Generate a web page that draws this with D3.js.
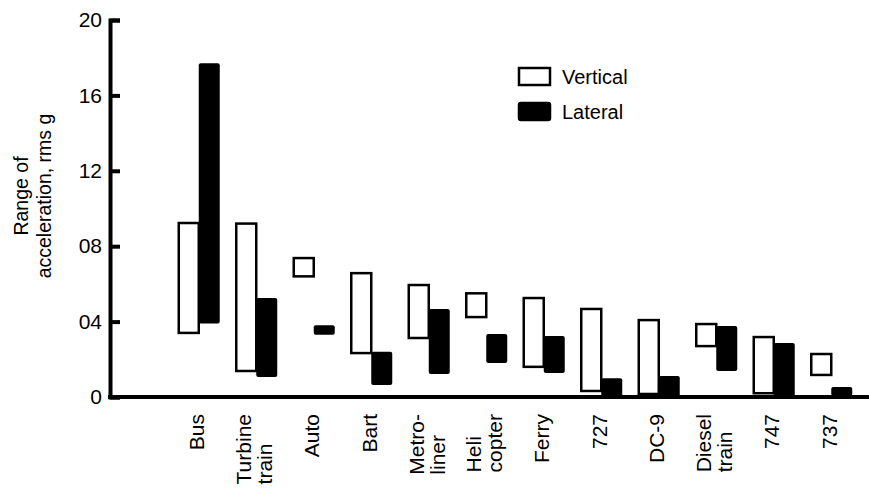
<!DOCTYPE html>
<html>
<head>
<meta charset="utf-8">
<script src="https://cdn.jsdelivr.net/npm/d3@7"></script>
<style>
  body { margin: 0; background: #fff; }
  svg text { font-family: "Liberation Sans", Arial, sans-serif; fill: #000; }
</style>
</head>
<body>
<svg width="869" height="488"></svg>
<script>
var svg = d3.select("svg"),
    width = +svg.attr("width"),
    height = +svg.attr("height");

// vehicles, each label split in lines
var categories = [["Bus"], ["Turbine", "train"], ["Auto"], ["Bart"], ["Metro-", "liner"],
                  ["Heli", "copter"], ["Ferry"], ["727"], ["DC-9"], ["Diesel", "train"], ["747"], ["737"]];

// range of acceleration
var vertLow  = [3.4, 1.38, 6.4, 2.33, 3.13, 4.24, 1.6, 0.32, 0.16, 2.7, 0.2, 1.17];
var vertHigh = [9.23, 9.2, 7.37, 6.57, 5.94, 5.5, 5.25, 4.67, 4.08, 3.87, 3.18, 2.28];
var latLow   = [3.9, 1.06, 3.3, 0.64, 1.22, 1.8, 1.27, 0, 0, 1.38, 0, 0.05];
var latHigh  = [17.7, 5.25, 3.8, 2.4, 4.67, 3.34, 3.24, 1.0, 1.11, 3.77, 2.86, 0.53];

var tickValues = [0, 4, 8, 12, 16, 20];
var tickLabels = ["0", "04", "08", "12", "16", "20"];

var names = categories.map(function(d) { return d.join(" "); });

var x = d3.scaleBand().domain(names).range([170, 860]).padding(0);
var y = d3.scaleLinear().domain([0, 20]).range([397, 20]);
var axisX = 110;

var data = names.map(function(n, i) {
  return {name: n, lines: categories[i], vl: vertLow[i], vh: vertHigh[i], ll: latLow[i], lh: latHigh[i]};
});

var barW = 20;

// vertical (open) bars
svg.selectAll(".vert")
  .data(data)
  .enter().append("rect")
    .attr("class", "vert")
    .attr("x", function(d) { return x(d.name) + x.bandwidth() / 2 - barW; })
    .attr("y", function(d) { return y(d.vh); })
    .attr("width", barW)
    .attr("height", function(d) { return y(d.vl) - y(d.vh); })
    .attr("fill", "#fff")
    .attr("stroke", "#000")
    .attr("stroke-width", 2.5);

// lateral (filled) bars
svg.selectAll(".lat")
  .data(data)
  .enter().append("rect")
    .attr("class", "lat")
    .attr("x", function(d) { return x(d.name) + x.bandwidth() / 2; })
    .attr("y", function(d) { return y(d.lh); })
    .attr("width", barW + 1)
    .attr("height", function(d) { return Math.max(y(d.ll) - y(d.lh), 1); })
    .attr("rx", 2)
    .attr("fill", "#000");

// y axis, ticks pointing inward
var yAxis = d3.axisLeft(y)
    .tickValues(tickValues)
    .tickFormat(function(d, i) { return tickLabels[i]; })
    .tickSizeInner(-10)
    .tickSizeOuter(-10)
    .tickPadding(8);

var gy = svg.append("g")
    .attr("transform", "translate(" + axisX + ",0)")
    .call(yAxis);
gy.select(".domain").attr("stroke-width", 4);
gy.selectAll(".tick line").attr("stroke-width", 4);
gy.selectAll(".tick text").style("font-size", "21px").attr("font-family", null);

// x axis baseline
svg.append("line")
    .attr("x1", axisX - 2).attr("x2", width)
    .attr("y1", y(0)).attr("y2", y(0))
    .attr("stroke", "#000")
    .attr("stroke-width", 4);

// category labels, rotated, block aligned at top
var labelTop = 414;
var lab = svg.selectAll(".lab")
  .data(data)
  .enter().append("g")
    .attr("class", "lab");

lab.each(function(d) {
  var g = d3.select(this);
  var cx = x(d.name) + x.bandwidth() / 2 - 2;
  var n = d.lines.length;
  var texts = d.lines.map(function(line, j) {
    return g.append("text")
        .style("font-size", "21px")
        .attr("text-anchor", "start")
        .attr("dy", "0.35em")
        .attr("data-x", cx + (j - (n - 1) / 2) * 21)
        .text(line);
  });
  var maxLen = d3.max(texts, function(t) { return t.node().getComputedTextLength(); });
  texts.forEach(function(t) {
    t.attr("transform", "translate(" + t.attr("data-x") + "," + (labelTop + maxLen) + ") rotate(-90)");
  });
});

// y axis title
svg.append("text")
    .attr("transform", "translate(21,196) rotate(-90)")
    .attr("text-anchor", "middle")
    .attr("dy", "0.35em")
    .style("font-size", "19.5px")
    .text("Range of");
svg.append("text")
    .attr("transform", "translate(44,196) rotate(-90)")
    .attr("text-anchor", "middle")
    .attr("dy", "0.35em")
    .style("font-size", "19.5px")
    .text("acceleration, rms g");

// legend
var legend = [{label: "Vertical", fill: "#fff"}, {label: "Lateral", fill: "#000"}];
var lg = svg.selectAll(".legend")
  .data(legend)
  .enter().append("g")
    .attr("class", "legend")
    .attr("transform", function(d, i) { return "translate(519," + (68 + i * 35) + ")"; });
lg.append("rect")
    .attr("width", 31).attr("height", 17)
    .attr("rx", function(d, i) { return i ? 2 : 0; })
    .attr("fill", function(d) { return d.fill; })
    .attr("stroke", "#000")
    .attr("stroke-width", 2.5);
lg.append("text")
    .attr("x", 43).attr("y", 9)
    .attr("dy", "0.35em")
    .style("font-size", "20px")
    .text(function(d) { return d.label; });
</script>
</body>
</html>
